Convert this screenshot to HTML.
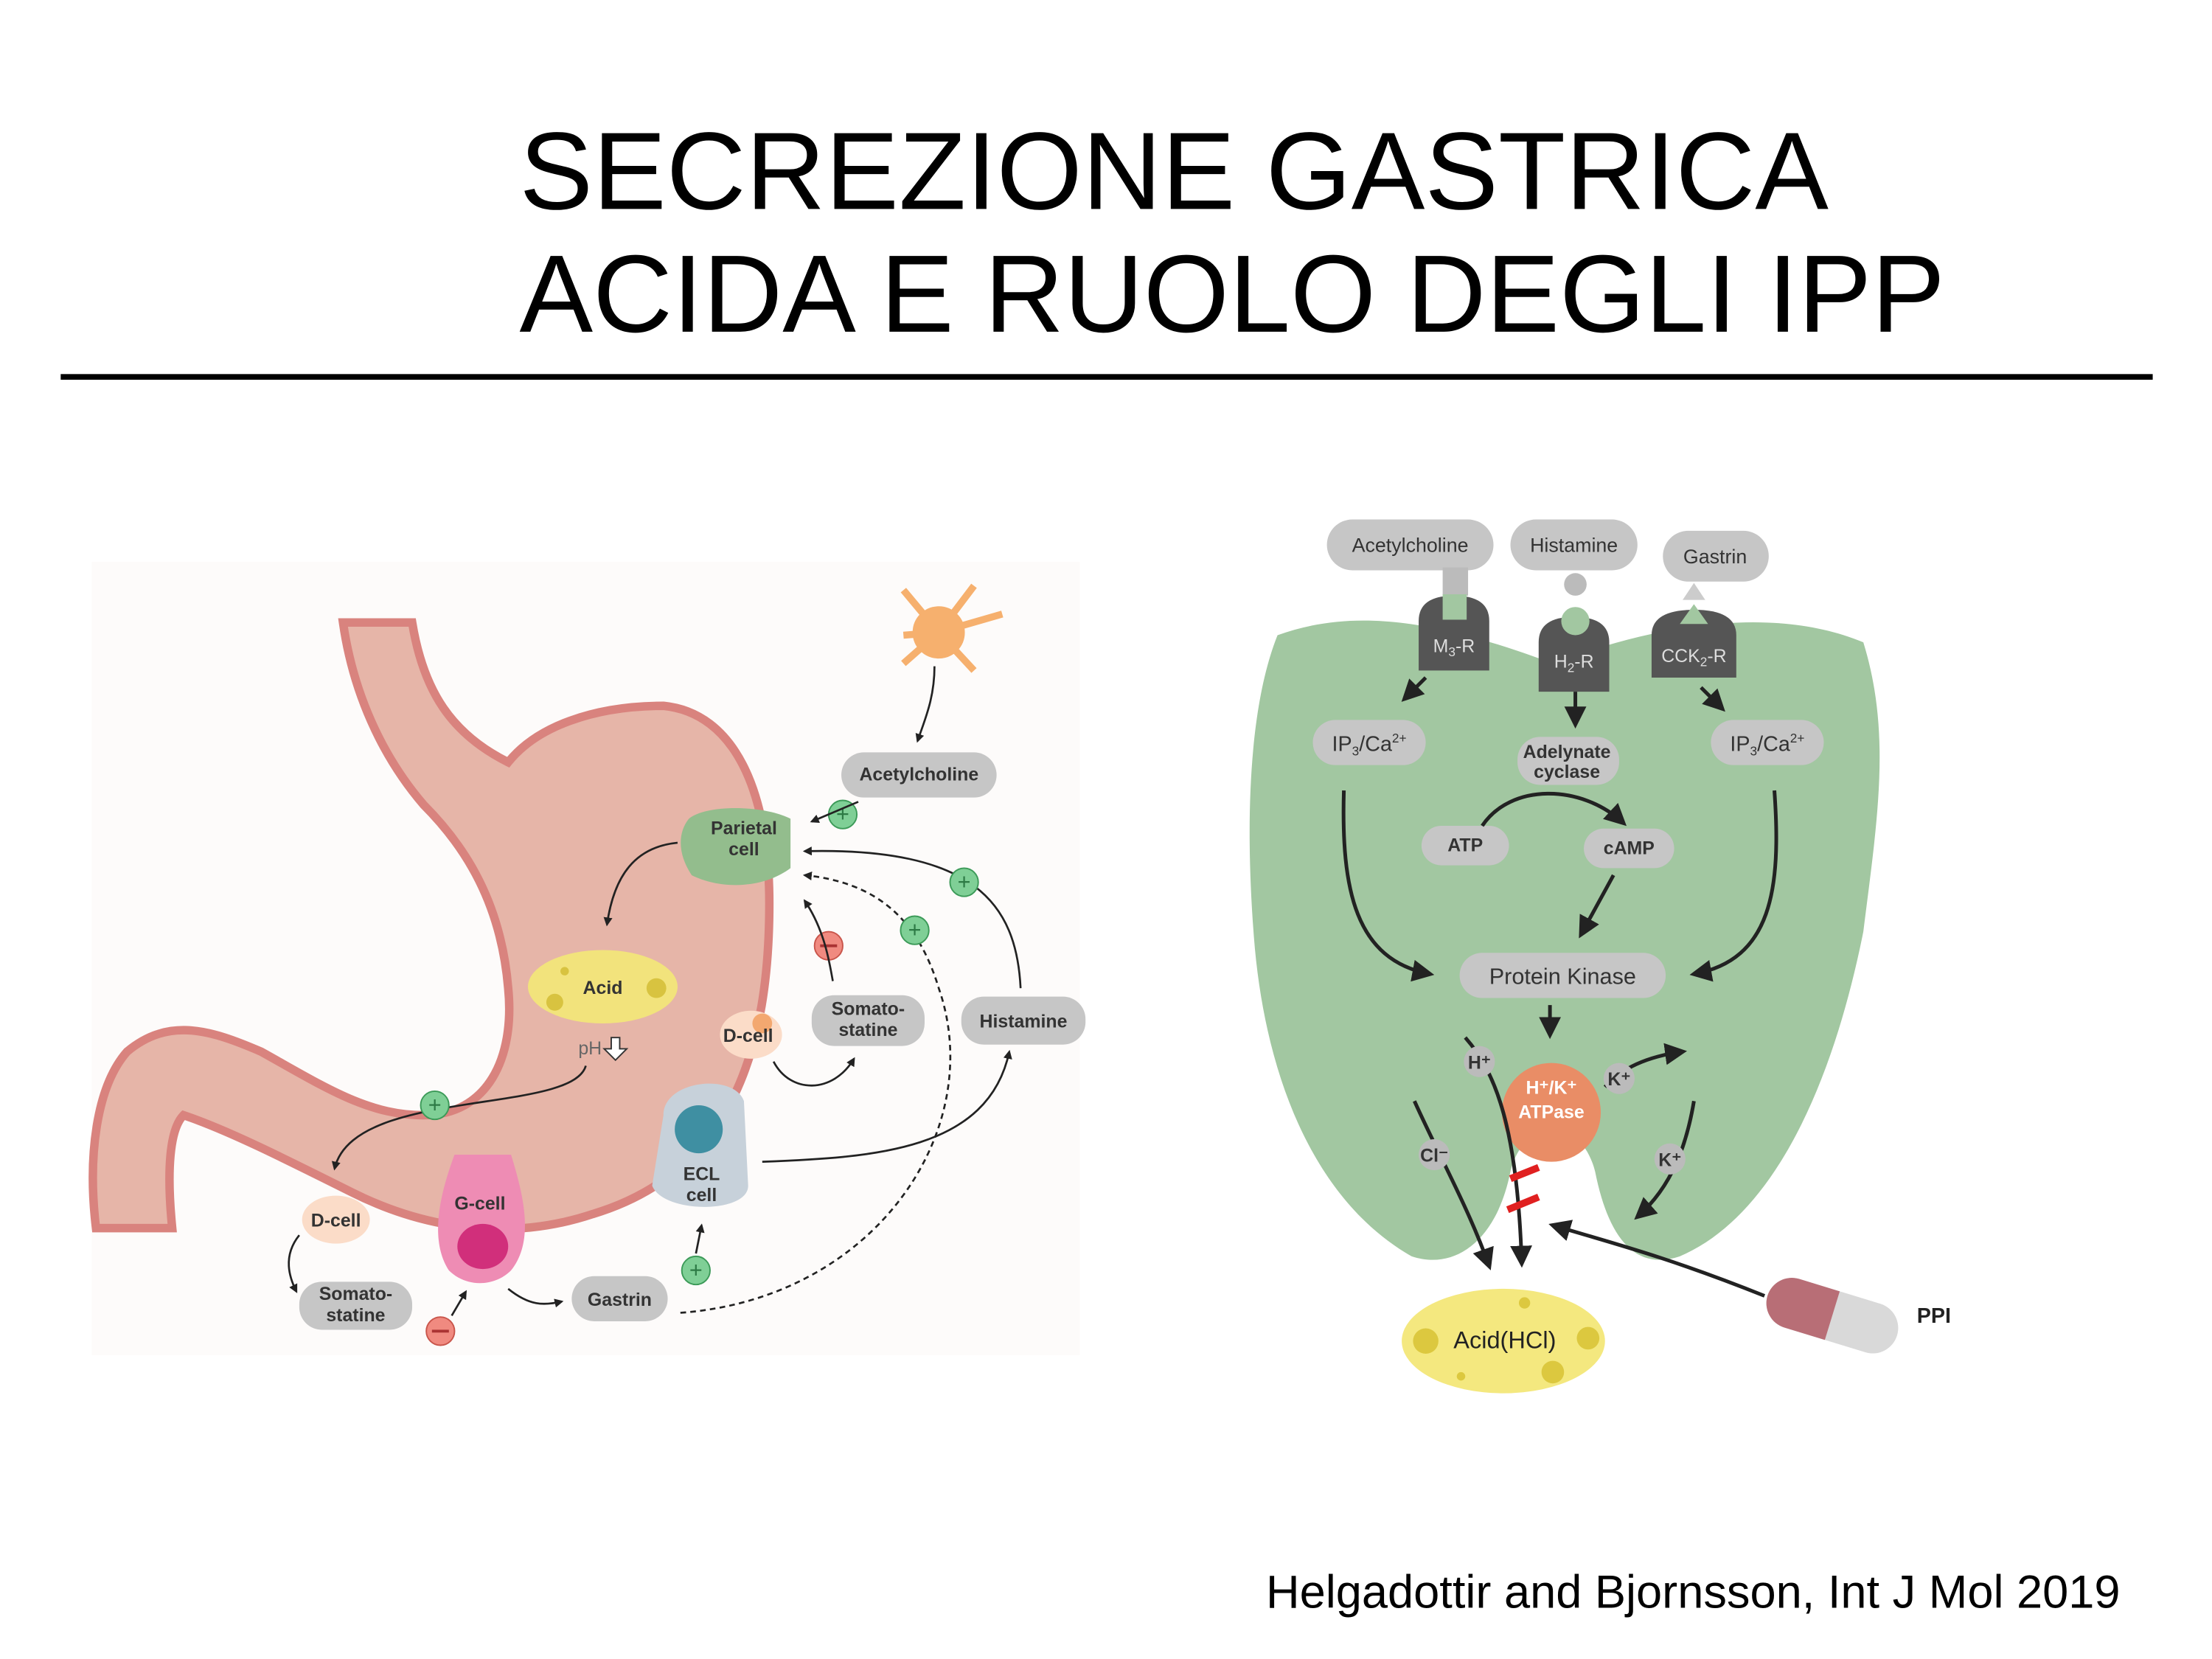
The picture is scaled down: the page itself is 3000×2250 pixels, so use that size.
<!DOCTYPE html>
<html><head><meta charset="utf-8"><style>
html,body{margin:0;padding:0;background:#fff;}
svg{display:block}
text{font-family:"Liberation Sans",sans-serif;}
.b{fill:#c6c6c6}
.t{font-size:13px;fill:#333;font-weight:bold;text-anchor:middle}
.ln{fill:none;stroke:#222;stroke-width:1.4}
.lk{fill:none;stroke:#222;stroke-width:2.6}
</style></head><body>
<svg width="3000" height="2250" viewBox="0 0 1567 1175" preserveAspectRatio="xMinYMin meet" xmlns="http://www.w3.org/2000/svg">
<defs>
<marker id="a" viewBox="0 0 10 10" refX="8" refY="5" markerWidth="6" markerHeight="6" orient="auto"><path d="M0,0L10,5L0,10z" fill="#222"/></marker>
<marker id="A" viewBox="0 0 10 10" refX="8" refY="5" markerWidth="4.5" markerHeight="4.5" orient="auto"><path d="M0,0L10,5L0,10z" fill="#222"/></marker>
</defs>
<rect width="1567" height="1175" fill="#fff"/>
<text x="368" y="148" font-size="78" fill="#000">SECREZIONE GASTRICA</text>
<text x="368" y="235" font-size="78" fill="#000">ACIDA E RUOLO DEGLI IPP</text>
<rect x="43" y="265" width="1482" height="4" fill="#000"/>
<text x="1502" y="1139" font-size="33" fill="#000" text-anchor="end">Helgadottir and Bjornsson, Int J Mol 2019</text>

<!-- left panel -->
<rect x="65" y="398" width="700" height="562" fill="#fdfbfa"/>
<path d="M243,441 L292,441 C300,490 320,520 360,540 C380,515 420,500 470,500 C520,505 545,560 545,640 C545,740 520,830 420,860 C360,880 300,870 250,845 C200,820 160,800 130,790 C120,800 118,830 122,870 L68,870 C62,820 68,770 90,745 C120,720 150,730 185,745 C230,770 260,790 300,790 C345,790 365,750 360,700 C355,640 330,600 300,570 C270,535 250,490 243,441Z" fill="#e6b5a8" stroke="#d9837e" stroke-width="6"/>
<!-- neuron -->
<g fill="#f6b06e" stroke="#f6b06e">
<circle cx="665" cy="448" r="18"/>
<path d="M665,448L640,418M665,448L690,415M665,448L710,435M665,448L690,475M665,448L640,470M665,448L640,450" stroke-width="5"/>
</g>
<path class="ln" d="M662,472 C662,495 655,510 650,525" marker-end="url(#A)"/>
<rect x="596" y="533" width="110" height="32" rx="16" class="b"/><text x="651" y="553" class="t">Acetylcholine</text>
<path d="M488,580 C500,570 540,570 560,580 L560,615 C540,630 510,630 490,620 C480,605 480,590 488,580Z" fill="#93bd8d"/>
<text x="527" y="591" class="t">Parietal</text><text x="527" y="606" class="t">cell</text>
<circle cx="597" cy="577" r="10" fill="#7fcf96" stroke="#3c9a58"/><text x="597" y="582" font-size="16" fill="#2d7a45" text-anchor="middle">+</text>
<path class="ln" d="M608,568 L575,582" marker-end="url(#A)"/>
<path class="ln" d="M480,597 C450,600 435,620 430,655" marker-end="url(#A)"/>
<ellipse cx="427" cy="699" rx="53" ry="26" fill="#f2e37c"/>
<circle cx="393" cy="710" r="6" fill="#d8c340"/><circle cx="465" cy="700" r="7" fill="#d8c340"/><circle cx="400" cy="688" r="3" fill="#d8c340"/>
<text x="427" y="704" class="t">Acid</text>
<text x="418" y="747" font-size="13" fill="#666" text-anchor="middle">pH</text>
<path d="M433,735h6v8h5l-8,8l-8,-8h5z" fill="#fff" stroke="#333"/>
<path class="ln" d="M415,755 C405,790 250,770 237,828" marker-end="url(#A)"/>
<circle cx="308" cy="783" r="10" fill="#7fcf96" stroke="#3c9a58"/><text x="308" y="788" font-size="16" fill="#2d7a45" text-anchor="middle">+</text>
<ellipse cx="238" cy="864" rx="24" ry="17" fill="#fbdcc8"/><text x="238" y="869" class="t">D-cell</text>
<path class="ln" d="M212,875 C200,890 205,905 210,915" marker-end="url(#A)"/>
<rect x="212" y="908" width="80" height="34" rx="16" class="b"/><text x="252" y="921" class="t">Somato-</text><text x="252" y="936" class="t">statine</text>
<circle cx="312" cy="943" r="10" fill="#f08a80" stroke="#c9554b"/><rect x="306" y="942" width="12" height="2" fill="#a33"/>
<path class="ln" d="M320,932 L330,915" marker-end="url(#A)"/>
<path d="M322,818 L362,818 C372,850 378,880 362,900 C350,912 330,912 318,900 C305,880 310,850 322,818Z" fill="#ee8cb4"/>
<ellipse cx="342" cy="883" rx="18" ry="16" fill="#d12f7b"/>
<text x="340" y="857" class="t">G-cell</text>
<path class="ln" d="M360,913 C375,925 385,925 398,922" marker-end="url(#A)"/>
<rect x="405" y="904" width="68" height="32" rx="16" class="b"/><text x="439" y="925" class="t">Gastrin</text>
<circle cx="493" cy="900" r="10" fill="#7fcf96" stroke="#3c9a58"/><text x="493" y="905" font-size="16" fill="#2d7a45" text-anchor="middle">+</text>
<path class="ln" d="M493,888 L497,868" marker-end="url(#A)"/>
<path d="M470,790 C470,765 520,760 527,780 L530,840 C530,860 470,860 462,840Z" fill="#c7d1da"/>
<circle cx="495" cy="800" r="17" fill="#3f8fa2"/>
<text x="497" y="836" class="t">ECL</text><text x="497" y="851" class="t">cell</text>
<path class="ln" d="M540,823 C620,820 700,815 715,745" marker-end="url(#A)"/>
<rect x="681" y="706" width="88" height="34" rx="16" class="b"/><text x="725" y="728" class="t">Histamine</text>
<path class="ln" d="M723,700 C720,640 690,600 570,603" marker-end="url(#A)"/>
<circle cx="683" cy="625" r="10" fill="#7fcf96" stroke="#3c9a58"/><text x="683" y="630" font-size="16" fill="#2d7a45" text-anchor="middle">+</text>
<path class="ln" stroke-dasharray="4,3" d="M482,930 C620,920 700,800 665,700 C650,650 620,625 570,620" marker-end="url(#A)"/>
<circle cx="648" cy="659" r="10" fill="#7fcf96" stroke="#3c9a58"/><text x="648" y="664" font-size="16" fill="#2d7a45" text-anchor="middle">+</text>
<ellipse cx="532" cy="733" rx="22" ry="17" fill="#fbdcc8"/><circle cx="540" cy="725" r="7" fill="#f3a870"/><text x="530" y="738" class="t">D-cell</text>
<path class="ln" d="M548,752 C560,775 590,775 605,750" marker-end="url(#A)"/>
<rect x="575" y="705" width="80" height="36" rx="16" class="b"/><text x="615" y="719" class="t">Somato-</text><text x="615" y="734" class="t">statine</text>
<circle cx="587" cy="670" r="10" fill="#f08a80" stroke="#c9554b"/><rect x="581" y="669" width="12" height="2" fill="#a33"/>
<path class="ln" d="M590,695 C588,685 585,660 570,638" marker-end="url(#A)"/>

<!-- right panel -->
<path d="M905,450 C960,430 1020,440 1100,470 C1180,440 1260,430 1320,455 C1340,520 1330,580 1320,660 C1300,760 1260,860 1190,890 C1160,900 1140,880 1130,830 C1120,790 1080,790 1070,830 C1060,880 1030,900 1000,890 C930,850 895,760 888,660 C882,580 885,500 905,450Z" fill="#a2c7a1"/>
<rect x="940" y="368" width="118" height="36" rx="18" class="b"/><text x="999" y="391" class="t" style="font-weight:normal;font-size:14px">Acetylcholine</text>
<rect x="1070" y="368" width="90" height="36" rx="18" class="b"/><text x="1115" y="391" class="t" style="font-weight:normal;font-size:14px">Histamine</text>
<rect x="1178" y="376" width="75" height="36" rx="18" class="b"/><text x="1215" y="399" class="t" style="font-weight:normal;font-size:14px">Gastrin</text>
<rect x="1022" y="402" width="18" height="20" fill="#bbb"/><circle cx="1116" cy="414" r="8" fill="#bbb"/><path d="M1200,413 l8,12 h-16z" fill="#ccc"/>
<path d="M1005,440 q0,-18 25,-18 q25,0 25,18 v35 h-50z" fill="#555"/><rect x="1022" y="421" width="17" height="18" fill="#a2c7a1"/>
<path d="M1090,455 q0,-18 25,-18 q25,0 25,18 v35 h-50z" fill="#555"/><circle cx="1116" cy="440" r="10" fill="#a2c7a1"/>
<path d="M1170,450 q0,-18 30,-18 q30,0 30,18 v30 h-60z" fill="#555"/><path d="M1200,428 l10,14 h-20z" fill="#a2c7a1"/>
<text x="1030" y="462" font-size="13" fill="#ddd" text-anchor="middle">M<tspan font-size="9" dy="3">3</tspan><tspan dy="-3">-R</tspan></text>
<text x="1115" y="473" font-size="13" fill="#ddd" text-anchor="middle">H<tspan font-size="9" dy="3">2</tspan><tspan dy="-3">-R</tspan></text>
<text x="1200" y="469" font-size="13" fill="#ddd" text-anchor="middle">CCK<tspan font-size="9" dy="3">2</tspan><tspan dy="-3">-R</tspan></text>
<path class="lk" d="M1010,480 L995,495" marker-end="url(#a)"/>
<path class="lk" d="M1116,490 L1116,513" marker-end="url(#a)"/>
<path class="lk" d="M1205,487 L1220,502" marker-end="url(#a)"/>
<rect x="930" y="510" width="80" height="32" rx="16" class="b"/><text x="970" y="532" class="t" style="font-weight:normal;font-size:15px">IP<tspan font-size="9" dy="3">3</tspan><tspan dy="-3">/Ca</tspan><tspan font-size="9" dy="-6">2+</tspan></text>
<rect x="1212" y="510" width="80" height="32" rx="16" class="b"/><text x="1252" y="532" class="t" style="font-weight:normal;font-size:15px">IP<tspan font-size="9" dy="3">3</tspan><tspan dy="-3">/Ca</tspan><tspan font-size="9" dy="-6">2+</tspan></text>
<rect x="1075" y="522" width="72" height="34" rx="16" class="b"/><text x="1110" y="537" class="t">Adelynate</text><text x="1110" y="551" class="t">cyclase</text>
<rect x="1007" y="585" width="62" height="28" rx="14" class="b"/><text x="1038" y="603" class="t">ATP</text>
<rect x="1122" y="587" width="64" height="28" rx="14" class="b"/><text x="1154" y="605" class="t">cAMP</text>
<path class="lk" d="M1050,585 C1070,555 1120,555 1150,583" marker-end="url(#a)"/>
<path class="lk" d="M1143,620 L1120,662" marker-end="url(#a)"/>
<path class="lk" d="M952,560 C950,630 960,680 1013,690" marker-end="url(#a)"/>
<path class="lk" d="M1257,560 C1262,630 1255,680 1200,690" marker-end="url(#a)"/>
<rect x="1034" y="675" width="146" height="32" rx="16" class="b"/><text x="1107" y="697" class="t" style="font-weight:normal;font-size:16px">Protein Kinase</text>
<path class="lk" d="M1098,712 L1098,733" marker-end="url(#a)"/>
<circle cx="1099" cy="788" r="35" fill="#e98d66"/>
<text x="1099" y="775" class="t" style="fill:#fff">H⁺/K⁺</text><text x="1099" y="792" class="t" style="fill:#fff">ATPase</text>
<path class="lk" d="M1038,735 C1060,760 1075,800 1078,895" marker-end="url(#a)"/>
<circle cx="1048" cy="752" r="11" fill="#bbb"/><text x="1048" y="757" class="t">H⁺</text>
<path class="lk" d="M1137,770 C1150,755 1170,748 1192,745" marker-end="url(#a)"/>
<circle cx="1147" cy="764" r="11" fill="#bbb"/><text x="1147" y="769" class="t">K⁺</text>
<path class="lk" d="M1002,780 C1020,820 1040,855 1055,897" marker-end="url(#a)"/>
<circle cx="1016" cy="818" r="11" fill="#bbb"/><text x="1016" y="823" class="t">Cl⁻</text>
<path class="lk" d="M1200,780 C1195,810 1185,840 1160,862" marker-end="url(#a)"/>
<circle cx="1183" cy="821" r="11" fill="#bbb"/><text x="1183" y="826" class="t">K⁺</text>
<path d="M1070,835l20,-8M1068,857l22,-9" stroke="#e02020" stroke-width="5"/>
<path class="lk" d="M1250,918 C1180,890 1140,880 1100,868" marker-end="url(#a)"/>
<ellipse cx="1065" cy="950" rx="72" ry="37" fill="#f4e87f"/>
<circle cx="1010" cy="950" r="9" fill="#dcc83f"/><circle cx="1125" cy="948" r="8" fill="#dcc83f"/><circle cx="1100" cy="972" r="8" fill="#dcc83f"/><circle cx="1080" cy="923" r="4" fill="#dcc83f"/><circle cx="1035" cy="975" r="3" fill="#dcc83f"/>
<text x="1066" y="955" class="t" style="font-weight:normal;font-size:17px;fill:#222">Acid(HCl)</text>
<g transform="rotate(17 1298 932)">
<rect x="1250" y="914" width="96" height="36" rx="18" fill="#d9d9d9"/>
<path d="M1298,914 h-30 a18,18 0 0 0 0,36 h30z" fill="#b86e76"/>
</g>
<text x="1370" y="937" font-size="15" font-weight="bold" fill="#222" text-anchor="middle">PPI</text>
</svg>
</body></html>
